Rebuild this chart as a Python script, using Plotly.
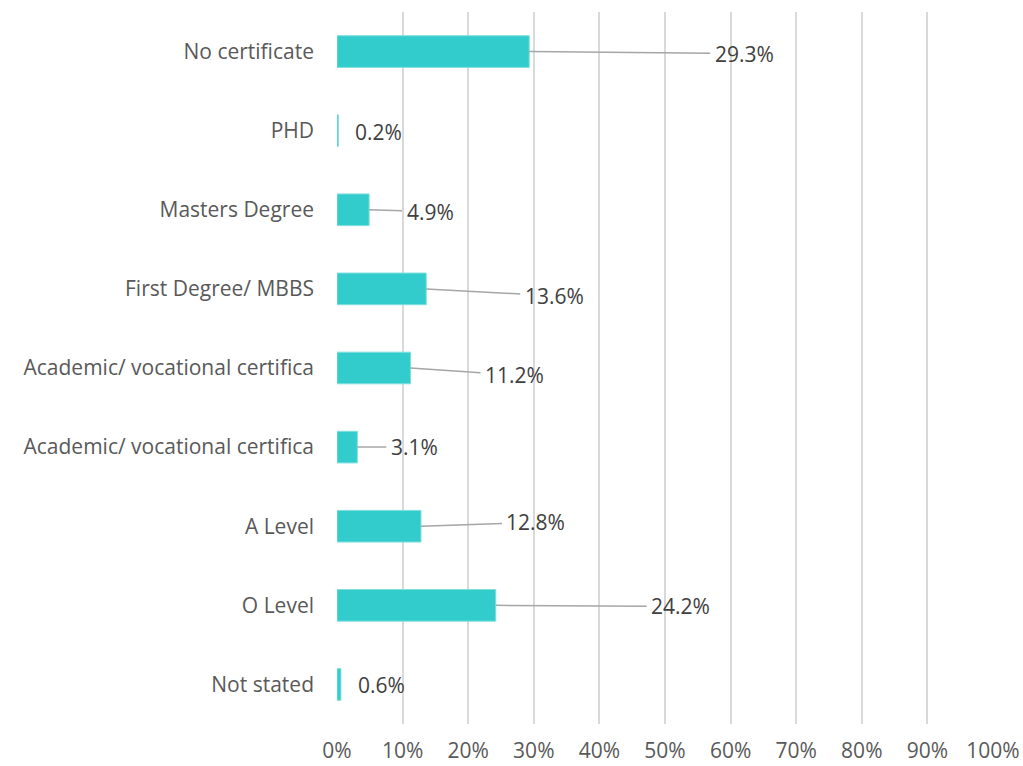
import plotly.graph_objects as go

# Highest qualification, share of respondents (%), listed top to bottom
categories = [
    "No certificate",
    "PHD",
    "Masters Degree",
    "First Degree/ MBBS",
    "Academic/ vocational certifica",
    "Academic/ vocational certifica",
    "A Level",
    "O Level",
    "Not stated",
]
shares = [29.3, 0.2, 4.9, 13.6, 11.2, 3.1, 12.8, 24.2, 0.6]

x_ticks = list(range(0, 101, 10))
x_tick_labels = [f"{v}%" for v in x_ticks]

# Label placement (pixel offsets from the bar end); None -> plain label beside bar
label_offsets = [(215, 2), None, (61, 2), (128, 7), (104, 7), (57, 0), (115, -4), (185, 1), None]

positions = list(range(len(categories)))
FONT = "Open Sans"

fig = go.Figure(
    go.Bar(
        x=shares,
        y=positions,
        orientation="h",
        marker=dict(color="#33CCCC", line=dict(color="#7fdede", width=1)),
        hoverinfo="skip",
    )
)

for pos, val, off in zip(positions, shares, label_offsets):
    text = f"{val:.1f}%"
    if off is None:
        fig.add_annotation(
            x=val, y=pos, text=text, showarrow=False,
            xanchor="left", xshift=15, yshift=-1,
            font=dict(family=FONT, size=21, color="#404040"),
        )
    else:
        fig.add_annotation(
            x=val, y=pos, text=text, showarrow=True,
            ax=off[0], ay=off[1], arrowhead=0, arrowwidth=1.5,
            arrowcolor="#a6a6a6", standoff=0, startstandoff=0,
            borderpad=4,
            font=dict(family=FONT, size=21, color="#404040"),
        )

fig.update_layout(
    width=1023,
    height=766,
    margin=dict(l=337, r=30, t=12, b=42),
    plot_bgcolor="white",
    paper_bgcolor="white",
    bargap=0.6,
    showlegend=False,
    font=dict(family=FONT, size=21, color="#595959"),
)
fig.update_xaxes(
    range=[0, 100],
    tickvals=x_ticks,
    ticktext=x_tick_labels,
    showgrid=True,
    gridcolor="#d9d9d9",
    gridwidth=2,
    zeroline=False,
    showline=False,
    ticklabelstandoff=12,
    automargin=False,
    fixedrange=True,
)
fig.update_yaxes(
    tickvals=positions,
    ticktext=categories,
    range=[len(categories) - 0.5, -0.5],
    showgrid=False,
    zeroline=False,
    showline=False,
    ticklabelstandoff=22,
    automargin=False,
    fixedrange=True,
)

fig.write_html("out.html", config={"displayModeBar": False})
